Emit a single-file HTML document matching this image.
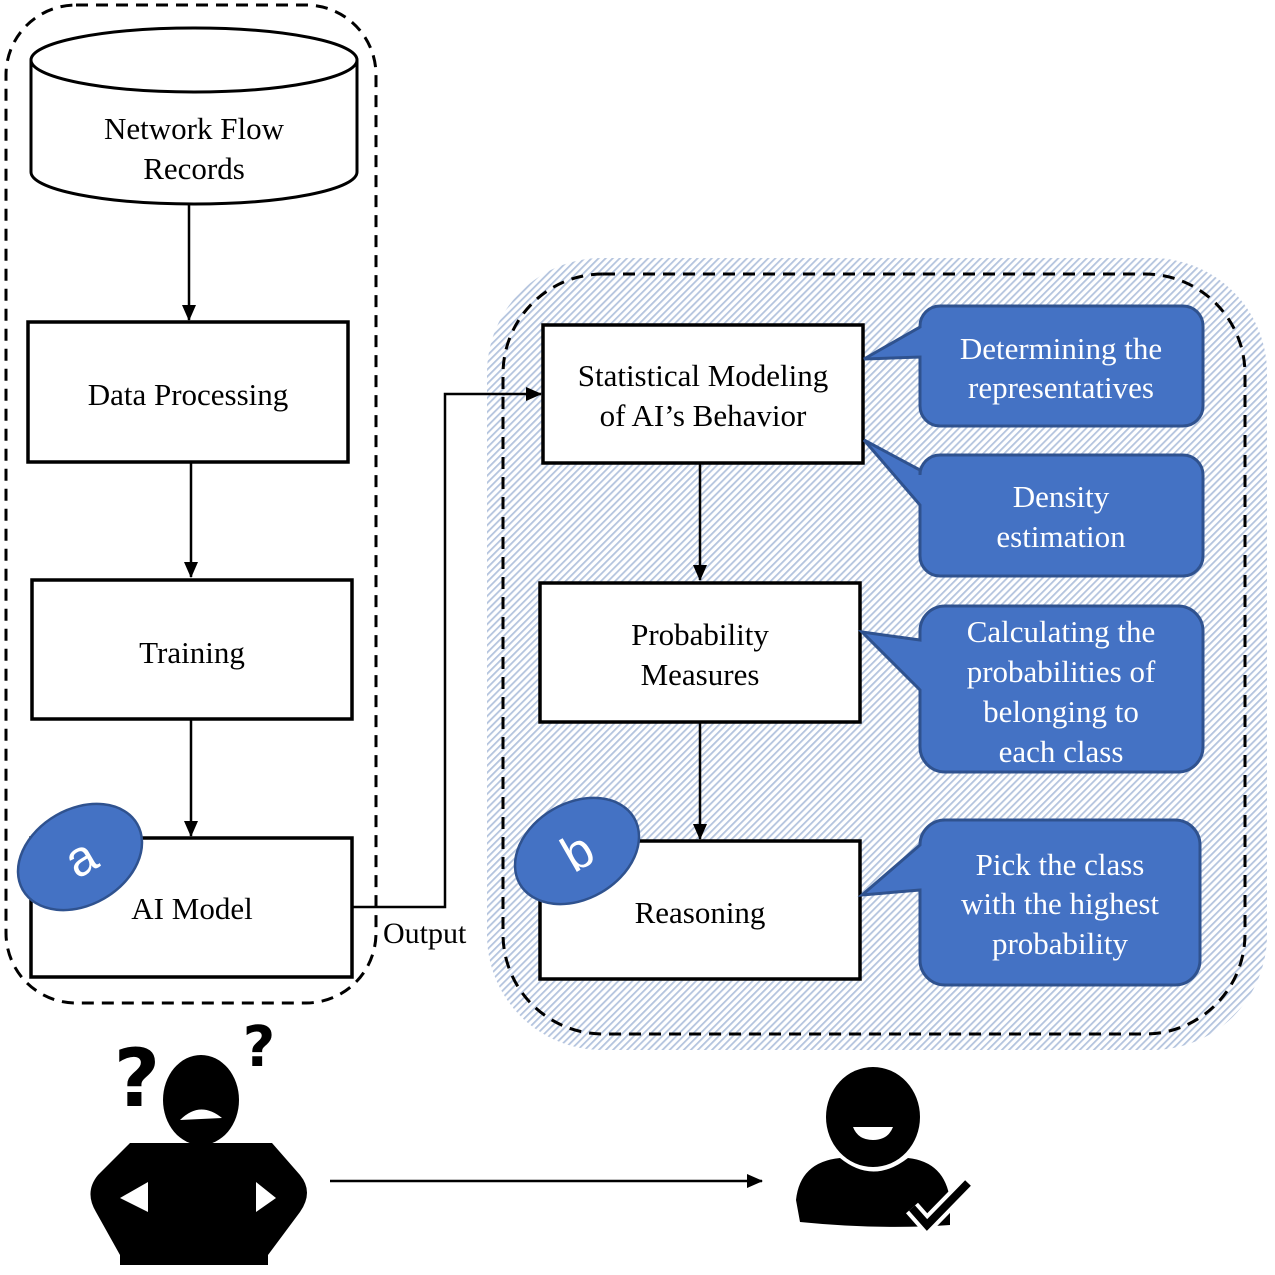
<!DOCTYPE html>
<html><head><style>html,body{margin:0;padding:0;background:#fff}svg{display:block}</style></head>
<body>
<svg width="1275" height="1275" viewBox="0 0 1275 1275" xmlns="http://www.w3.org/2000/svg" font-family="'Liberation Serif', serif">
<defs>
<pattern id="h" width="5" height="5" patternUnits="userSpaceOnUse" patternTransform="rotate(45)">
<rect width="5" height="5" fill="#fff"/>
<rect width="1.8" height="5" fill="#b4c4de"/>
</pattern>
<marker id="ar" markerWidth="16" markerHeight="16" refX="15" refY="7" orient="auto" markerUnits="userSpaceOnUse" viewBox="0 0 16 14">
<path d="M0,0 L16,7 L0,14 z" fill="#000"/>
</marker>
</defs>
<rect x="487" y="258" width="780" height="792" rx="115" fill="url(#h)"/>
<rect x="503" y="274" width="742" height="760" rx="100" fill="none" stroke="#000" stroke-width="3" stroke-dasharray="12,8"/>
<rect x="6" y="5" width="370" height="998" rx="70" fill="none" stroke="#000" stroke-width="3" stroke-dasharray="12,8"/>
<path d="M31,60 L31,172 A163,32 0 0 0 357,172 L357,60" fill="#fff" stroke="#000" stroke-width="3"/>
<ellipse cx="194" cy="60" rx="163" ry="32" fill="#fff" stroke="#000" stroke-width="3"/>
<text x="194" y="139" font-size="31" text-anchor="middle">Network Flow</text>
<text x="194" y="179" font-size="31" text-anchor="middle">Records</text>
<g fill="#fff" stroke="#000" stroke-width="3.5">
<rect x="28" y="322" width="320" height="140"/>
<rect x="32" y="580" width="320" height="139"/>
<rect x="31" y="838" width="321" height="139"/>
<rect x="543" y="325" width="320" height="138"/>
<rect x="540" y="583" width="320" height="139"/>
<rect x="540" y="841" width="320" height="138"/>
</g>
<g font-size="31" text-anchor="middle">
<text x="188" y="405">Data Processing</text>
<text x="192" y="663">Training</text>
<text x="192" y="919">AI Model</text>
<text x="703" y="386">Statistical Modeling</text>
<text x="703" y="426">of AI’s Behavior</text>
<text x="700" y="645">Probability</text>
<text x="700" y="685">Measures</text>
<text x="700" y="923">Reasoning</text>
<text x="383" y="943" text-anchor="start" font-size="30">Output</text>
</g>
<g stroke="#000" stroke-width="2.5" fill="none" marker-end="url(#ar)">
<line x1="189" y1="204" x2="189" y2="320"/>
<line x1="191" y1="462" x2="191" y2="577"/>
<line x1="191" y1="719" x2="191" y2="836"/>
<polyline points="352,907 445,907 445,394 541,394"/>
<line x1="700" y1="463" x2="700" y2="580"/>
<line x1="700" y1="722" x2="700" y2="839"/>
<line x1="330" y1="1181" x2="762" y2="1181"/>
</g>
<g fill="#4472c4" stroke="#2f528f" stroke-width="3">
<path d="M940,306 H1183 A20,20 0 0 1 1203,326 V406 A20,20 0 0 1 1183,426 H940 A20,20 0 0 1 920,406 V357 L864,359 L920,327 V326 A20,20 0 0 1 940,306 z"/>
<path d="M940,455 H1183 A20,20 0 0 1 1203,475 V556 A20,20 0 0 1 1183,576 H940 A20,20 0 0 1 920,556 V505 L864,440 L920,470 V475 A20,20 0 0 1 940,455 z"/>
<path d="M945,606 H1178 A25,25 0 0 1 1203,631 V747 A25,25 0 0 1 1178,772 H945 A25,25 0 0 1 920,747 V690 L862,632 L920,640 V631 A25,25 0 0 1 945,606 z"/>
<path d="M945,820 H1175 A25,25 0 0 1 1200,845 V960 A25,25 0 0 1 1175,985 H945 A25,25 0 0 1 920,960 V890 L862,895 L920,845 A25,25 0 0 1 945,820 z"/>
</g>
<g fill="#fff" font-size="31" text-anchor="middle">
<text x="1061" y="359">Determining the</text>
<text x="1061" y="398">representatives</text>
<text x="1061" y="507">Density</text>
<text x="1061" y="547">estimation</text>
<text x="1061" y="642">Calculating the</text>
<text x="1061" y="682">probabilities of</text>
<text x="1061" y="722">belonging to</text>
<text x="1061" y="762">each class</text>
<text x="1060" y="875">Pick the class</text>
<text x="1060" y="914">with the highest</text>
<text x="1060" y="954">probability</text>
</g>
<g fill="#4472c4" stroke="#2f528f" stroke-width="2.5">
<ellipse cx="80" cy="857" rx="66" ry="48" transform="rotate(-30 80 857)"/>
<ellipse cx="577" cy="851" rx="66" ry="48" transform="rotate(-30 577 851)"/>
</g>
<g fill="#fff" font-family="'Liberation Sans', sans-serif" font-size="50" text-anchor="middle">
<text x="80" y="875" transform="rotate(-30 80 857)">a</text>
<text x="577" y="869" transform="rotate(-30 577 851)">b</text>
</g>
<g fill="#000">
<text x="137" y="1106" font-family="'DejaVu Sans', sans-serif" font-weight="bold" font-size="80" text-anchor="middle">?</text>
<text x="259" y="1066" font-family="'DejaVu Sans', sans-serif" font-weight="bold" font-size="56" text-anchor="middle">?</text>
<ellipse cx="201" cy="1100" rx="38" ry="45"/>
<path d="M130,1143 L177,1143 L225,1143 L272,1143 L300,1175 Q314,1192 300,1212 L268,1255 L268,1265 L120,1265 L120,1255 L96,1212 Q84,1192 98,1175 Z"/>
</g>
<path d="M180,1120 Q200,1100 222,1118 Z" fill="#fff"/>
<path d="M148,1182 L120,1198 L148,1212 Z" fill="#fff"/>
<path d="M256,1182 L276,1198 L256,1212 Z" fill="#fff"/>
<g fill="#000">
<ellipse cx="873" cy="1117" rx="47" ry="50"/>
<path d="M840,1158 Q873,1185 908,1158 Q945,1162 950,1200 L950,1225 Q880,1230 800,1222 L796,1200 Q800,1162 840,1158 Z"/>
</g>
<path d="M853,1127 H893 Q888,1140 873,1140 Q858,1140 853,1127 Z" fill="#fff"/>
<path d="M912,1208 L927,1225 L968,1183" fill="none" stroke="#fff" stroke-width="16"/>
<path d="M912,1208 L927,1225 L968,1183" fill="none" stroke="#000" stroke-width="8"/>
</svg>
</body></html>
